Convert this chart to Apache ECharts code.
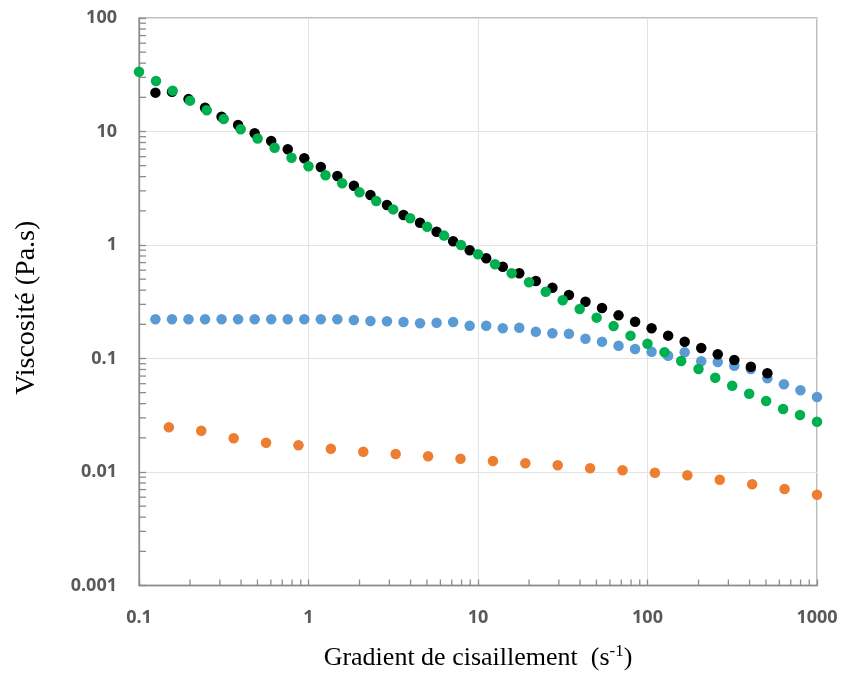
<!DOCTYPE html>
<html>
<head>
<meta charset="utf-8">
<script src="https://cdn.jsdelivr.net/npm/echarts@6/dist/echarts.min.js"></script>
<style>html,body{margin:0;padding:0;background:#fff;}#c{width:842px;height:678px;}</style>
</head>
<body>
<div id="c"></div>
<script>
// Shear rates (s^-1)
const xBlueBlack = [0.125,0.1565,0.1959,0.2453,0.3070,0.3843,0.4812,0.6024,0.7543,0.9443,
  1.182,1.480,1.853,2.320,2.904,3.636,4.551,5.698,7.134,8.931,
  11.18,14.00,17.52,21.94,27.47,34.39,43.05,53.89,67.47,84.47,
  105.7,132.4,165.7,207.5,259.7,325.2,407.1,509.6,638.0,798.8,1000];
const xGreen = [0.1,0.126,0.158,0.2,0.251,0.316,0.398,0.501,0.631,0.794,
  1,1.26,1.58,2,2.51,3.16,3.98,5.01,6.31,7.94,
  10,12.6,15.8,20,25.1,31.6,39.8,50.1,63.1,79.4,
  100,126,158,200,251,316,398,501,631,794,1000];
const xOrange = [0.15,0.2330,0.3619,0.5619,0.8727,1.355,2.105,3.268,5.077,7.884,
  12.25,19.02,29.54,45.87,71.25,110.6,171.9,266.9,414.5,643.8,1000];

// Viscosities (Pa.s)
const yBlue = [0.2215,0.2215,0.2215,0.2215,0.2215,0.2215,0.2215,0.2215,0.2215,0.2215,
  0.2215,0.2215,0.2183,0.2139,0.2126,0.2096,0.2042,0.2067,0.2096,0.1945,
  0.1945,0.1845,0.1868,0.1722,0.1667,0.1654,0.1494,0.1406,0.1297,0.1213,
  0.1148,0.1058,0.1134,0.0945,0.0932,0.0864,0.0808,0.0669,0.0593,0.0525,0.0458];
const yBlack = [22.0,22.4,19.3,16.2,13.5,11.4,9.64,8.25,6.97,5.81,
  4.87,4.05,3.33,2.76,2.25,1.84,1.57,1.31,1.08,0.898,
  0.763,0.644,0.563,0.482,0.420,0.363,0.316,0.279,0.240,0.211,
  0.1845,0.159,0.1406,0.1238,0.1089,0.0970,0.0847,0.0741];
const yGreen = [33.6,27.9,22.9,18.7,15.4,12.9,10.45,8.68,7.20,5.88,
  4.94,4.11,3.50,2.91,2.44,2.06,1.72,1.45,1.21,1.0,
  0.828,0.677,0.563,0.469,0.388,0.326,0.273,0.229,0.193,0.159,
  0.135,0.1134,0.0950,0.0808,0.0677,0.0576,0.0490,0.0422,0.0359,0.0318,0.0277];
const yOrange = [0.02477,0.02312,0.01981,0.01811,0.01718,0.01604,0.01510,0.01441,0.01375,0.01310,
  0.01250,0.01193,0.01146,0.01078,0.01035,0.00986,0.00935,0.00855,0.00779,0.00708,0.00631];

// Tick labels
const xTickValues = [0.1, 1, 10, 100, 1000];
const xTickLabels = ['0.1', '1', '10', '100', '1000'];
const yTickValues = [0.001, 0.01, 0.1, 1, 10, 100];
const yTickLabels = ['0.001', '0.01', '0.1', '1', '10', '100'];
const xMinorTicks = [0.2,0.3,0.4,0.5,0.6,0.7,0.8,0.9,2,3,4,5,6,7,8,9,20,30,40,50,60,70,80,90,200,300,400,500,600,700,800,900];
const yMinorTicks = [0.002,0.003,0.004,0.005,0.006,0.007,0.008,0.009,0.02,0.03,0.04,0.05,0.06,0.07,0.08,0.09,
  0.2,0.3,0.4,0.5,0.6,0.7,0.8,0.9,2,3,4,5,6,7,8,9,20,30,40,50,60,70,80,90];

const zip = (xs, ys) => ys.map((y, i) => [xs[i], y]);
function labelFor(values, labels) {
  return v => {
    for (let i = 0; i < values.length; i++) {
      if (Math.abs(Math.log10(v) - Math.log10(values[i])) < 1e-6) return labels[i];
    }
    return '';
  };
}

const labelStyle = { color: '#595959', fontFamily: 'Open Sans', fontWeight: 'bold', fontSize: 18 };
const tickLine = { color: '#8c8c8c', width: 1.3 };

const chart = echarts.init(document.getElementById('c'), null, { renderer: 'canvas' });
chart.setOption({
  animation: false,
  backgroundColor: '#ffffff',
  grid: { left: 139, right: 25, top: 18, bottom: 92.5, show: true, borderColor: '#a6a6a6', borderWidth: 1.5, containLabel: false },
  xAxis: {
    type: 'log', logBase: 10, min: 0.1, max: 1000,
    axisLine: { show: true, lineStyle: tickLine },
    axisTick: { show: true, inside: true, length: 6, lineStyle: tickLine },
    axisLabel: Object.assign({ margin: 23, formatter: labelFor(xTickValues, xTickLabels) }, labelStyle),
    splitLine: { show: true, lineStyle: { color: '#e3e3e3', width: 1 } },
    name: '{t|Gradient de cisaillement  (s}{sup|-1}{t|)}',
    nameLocation: 'middle', nameGap: 58,
    nameTextStyle: {
      rich: {
        t: { fontFamily: 'Liberation Serif', fontSize: 26, color: '#000' },
        sup: { fontFamily: 'Liberation Serif', fontSize: 17, color: '#000', padding: [0, 0, 13, 0] }
      }
    }
  },
  yAxis: {
    type: 'log', logBase: 10, min: 0.001, max: 100,
    axisLine: { show: true, lineStyle: tickLine },
    axisTick: { show: true, inside: true, length: 7, lineStyle: tickLine },
    axisLabel: Object.assign({ margin: 22, formatter: labelFor(yTickValues, yTickLabels) }, labelStyle),
    splitLine: { show: true, lineStyle: { color: '#e3e3e3', width: 1 } },
    name: 'Viscosité (Pa.s)',
    nameLocation: 'middle', nameGap: 98,
    nameTextStyle: { fontFamily: 'Liberation Serif', fontSize: 28, color: '#000', padding: [0, 12, 0, 0] }
  },
  series: [
    {
      type: 'custom', silent: true, z: 1,
      data: xMinorTicks.map(v => [v, 0.001]),
      renderItem: (params, api) => {
        const p = api.coord([api.value(0), api.value(1)]);
        return { type: 'line', shape: { x1: p[0], y1: p[1], x2: p[0], y2: p[1] - 6 }, style: { stroke: '#8c8c8c', lineWidth: 1.3 } };
      }
    },
    {
      type: 'custom', silent: true, z: 1,
      data: yMinorTicks.map(v => [0.1, v]),
      renderItem: (params, api) => {
        const p = api.coord([api.value(0), api.value(1)]);
        return { type: 'line', shape: { x1: p[0], y1: p[1], x2: p[0] + 7, y2: p[1] }, style: { stroke: '#8c8c8c', lineWidth: 1.3 } };
      }
    },
    { name: 'orange', type: 'scatter', symbol: 'circle', symbolSize: 10.5, itemStyle: { color: '#ed7d31', opacity: 1 }, data: zip(xOrange, yOrange) },
    { name: 'blue', type: 'scatter', symbol: 'circle', symbolSize: 10.5, itemStyle: { color: '#5b9bd5', opacity: 1 }, data: zip(xBlueBlack, yBlue) },
    { name: 'black', type: 'scatter', symbol: 'circle', symbolSize: 10.5, itemStyle: { color: '#000000', opacity: 1 }, data: zip(xBlueBlack, yBlack) },
    { name: 'green', type: 'scatter', symbol: 'circle', symbolSize: 10.5, itemStyle: { color: '#00b050', opacity: 1 }, data: zip(xGreen, yGreen) }
  ]
});
</script>
</body>
</html>
